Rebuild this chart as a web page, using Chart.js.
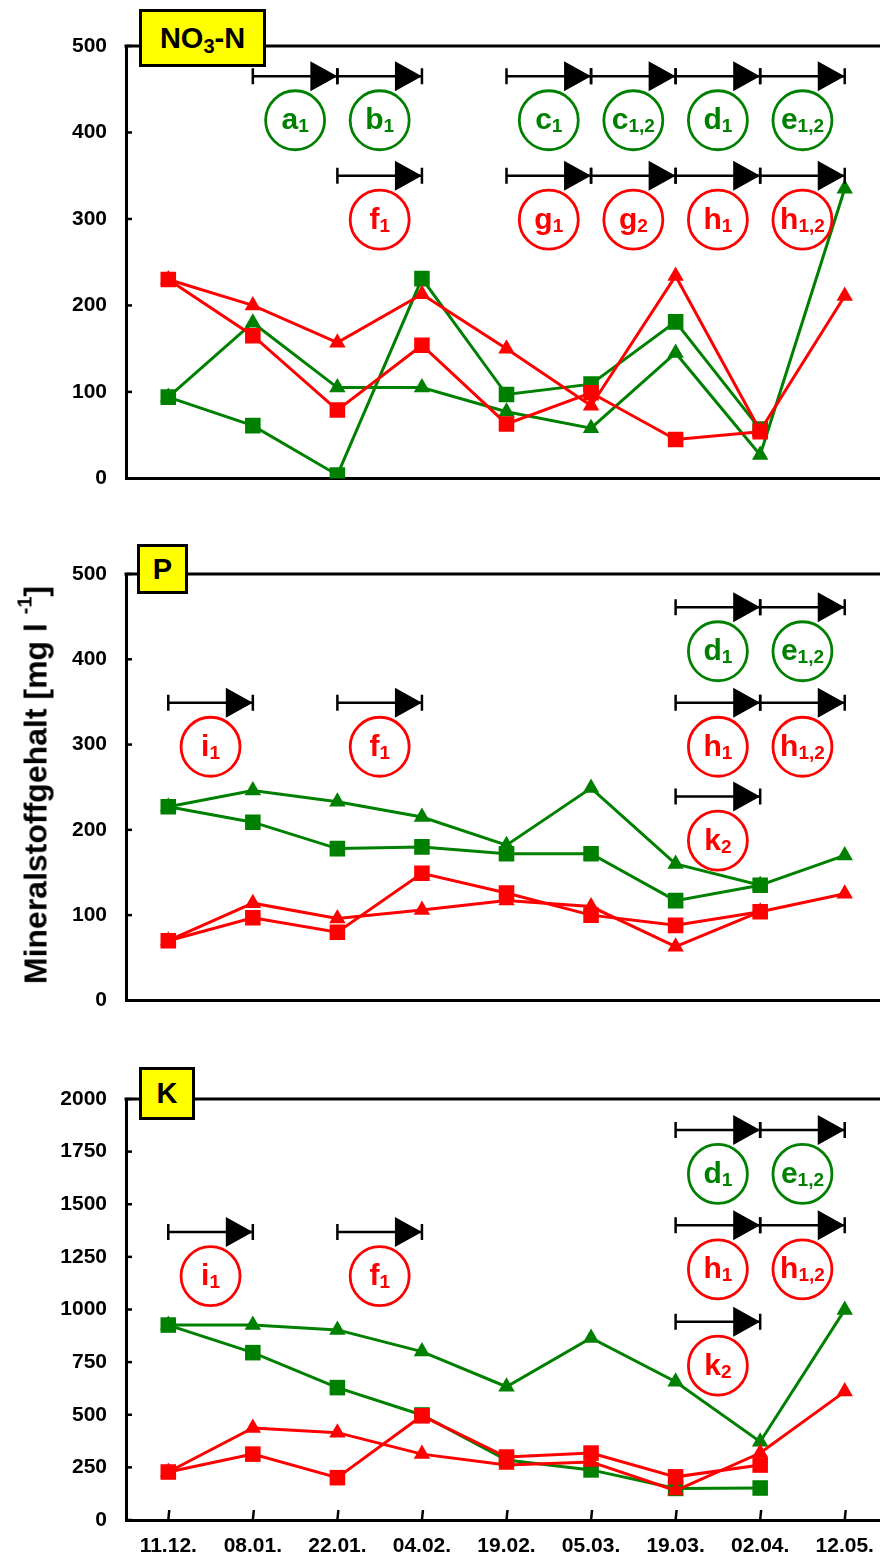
<!DOCTYPE html>
<html>
<head>
<meta charset="utf-8">
<script src="https://cdn.jsdelivr.net/npm/chart.js@4.4.1/dist/chart.umd.min.js"></script>
<style>
  html, body { margin: 0; padding: 0; background: #fff; overflow: hidden; }
  body { width: 880px; height: 1559px; position: relative; font-family: "Liberation Sans", Arial, sans-serif; }
  canvas { position: absolute; left: 0; }
  .tag { position: absolute; background: #ffff00; border: 3px solid #000; box-sizing: border-box;
         font-weight: bold; font-size: 29px; color: #000; display: flex; align-items: center;
         justify-content: center; z-index: 2; }
  .tag sub { font-size: 20px; vertical-align: baseline; position: relative; top: 5px; }
  .ytitle { position: absolute; left: 36px; top: 785px; transform: translate(-50%, -50%) rotate(-90deg);
            white-space: nowrap; font-weight: bold; font-size: 32px; color: #000; }
  .ytitle sup { font-size: 20px; position: relative; top: -4px; vertical-align: top; }
</style>
</head>
<body>
<canvas id="no3" width="890" height="510" style="top:0"></canvas>
<canvas id="p" width="890" height="512" style="top:520px"></canvas>
<canvas id="k" width="890" height="519" style="top:1040px"></canvas>

<div class="tag" style="left:139px; top:9px; width:127px; height:58px;"><span>NO<sub>3</sub>-N</span></div>
<div class="tag" style="left:137px; top:544px; width:51px; height:50px;">P</div>
<div class="tag" style="left:139px; top:1067px; width:56px; height:53px;">K</div>
<div class="ytitle">Mineralstoffgehalt [mg l <sup>-1</sup>]</div>

<script>
const dates = ['11.12.', '08.01.', '22.01.', '04.02.', '19.02.', '05.03.', '19.03.', '02.04.', '12.05.'];

// NO3-N
const no3GreenSquare = [94, 61, 4, 231, 97, 109, 181, 57, null];
const no3GreenTriangle = [94, 180, 105, 105, 77, 58, 145, 27, 335];
const no3RedSquare = [230, 165, 79, 154, 63, 99, 45, 54, null];
const no3RedTriangle = [230, 200, 157, 213, 150, 84, 234, 55, 211];

// P
const pGreenSquare = [227, 209, 178, 180, 172, 172, 117, 135, null];
const pGreenTriangle = [227, 246, 233, 215, 182, 249, 160, 135, 170];
const pRedSquare = [70, 97, 80, 149, 126, 100, 88, 104, null];
const pRedTriangle = [70, 114, 96, 106, 117, 110, 63, 104, 125];

// K
const kGreenSquare = [926, 795, 629, 499, 285, 238, 150, 152, null];
const kGreenTriangle = [926, 926, 903, 800, 633, 865, 657, 372, 998];
const kRedSquare = [228, 313, 201, 495, 299, 318, 205, 261, null];
const kRedTriangle = [228, 437, 415, 313, 261, 276, 140, 318, 610];

// arrows: from, to, level (axis units), letter, subscript, group
const no3Arrows = [
  ['08.01.', '22.01.', 465, 'a', '1', 'g'],
  ['22.01.', '04.02.', 465, 'b', '1', 'g'],
  ['19.02.', '05.03.', 465, 'c', '1', 'g'],
  ['05.03.', '19.03.', 465, 'c', '1,2', 'g'],
  ['19.03.', '02.04.', 465, 'd', '1', 'g'],
  ['02.04.', '12.05.', 465, 'e', '1,2', 'g'],
  ['22.01.', '04.02.', 350, 'f', '1', 'r'],
  ['19.02.', '05.03.', 350, 'g', '1', 'r'],
  ['05.03.', '19.03.', 350, 'g', '2', 'r'],
  ['19.03.', '02.04.', 350, 'h', '1', 'r'],
  ['02.04.', '12.05.', 350, 'h', '1,2', 'r']
];
const pArrows = [
  ['19.03.', '02.04.', 461, 'd', '1', 'g'],
  ['02.04.', '12.05.', 461, 'e', '1,2', 'g'],
  ['11.12.', '08.01.', 349, 'i', '1', 'r'],
  ['22.01.', '04.02.', 349, 'f', '1', 'r'],
  ['19.03.', '02.04.', 349, 'h', '1', 'r'],
  ['02.04.', '12.05.', 349, 'h', '1,2', 'r'],
  ['19.03.', '02.04.', 239, 'k', '2', 'r']
];
const kArrows = [
  ['19.03.', '02.04.', 1853, 'd', '1', 'g'],
  ['02.04.', '12.05.', 1853, 'e', '1,2', 'g'],
  ['11.12.', '08.01.', 1368, 'i', '1', 'r'],
  ['22.01.', '04.02.', 1368, 'f', '1', 'r'],
  ['19.03.', '02.04.', 1400, 'h', '1', 'r'],
  ['02.04.', '12.05.', 1400, 'h', '1,2', 'r'],
  ['19.03.', '02.04.', 942, 'k', '2', 'r']
];

const GREEN = '#008000';
const RED = '#ff0000';
const FONT = '"Liberation Sans", Arial, sans-serif';

function series(values, color, shape) {
  const r = shape === 'rect' ? 11 : 9.5;
  return {
    data: values,
    borderColor: color,
    backgroundColor: color,
    borderWidth: 3,
    pointStyle: shape,
    pointRadius: r,
    pointBorderWidth: 0,
    pointHoverRadius: r,
    tension: 0
  };
}

function notes(arrows, xMarks) {
  return {
    id: 'notes',
    afterDatasetsDraw(chart) {
      const ctx = chart.ctx;
      const xs = chart.scales.x, ys = chart.scales.y;
      const area = chart.chartArea;
      ctx.save();
      // top frame line
      ctx.strokeStyle = '#000';
      ctx.lineWidth = 3;
      ctx.beginPath();
      ctx.moveTo(area.left - 1.5, area.top);
      ctx.lineTo(area.right, area.top);
      ctx.stroke();
      // y ticks, inside
      ctx.lineWidth = 2.5;
      ys.ticks.forEach(t => {
        const py = ys.getPixelForValue(t.value);
        ctx.beginPath();
        ctx.moveTo(area.left, py);
        ctx.lineTo(area.left + 6, py);
        ctx.stroke();
      });
      if (xMarks) {
        dates.forEach((d, i) => {
          const px = xs.getPixelForValue(i);
          ctx.beginPath();
          ctx.moveTo(px, area.bottom);
          ctx.lineTo(px + 1, area.bottom - 10);
          ctx.stroke();
        });
      }
      arrows.forEach(a => {
        const x0 = xs.getPixelForValue(dates.indexOf(a[0]));
        const x1 = xs.getPixelForValue(dates.indexOf(a[1]));
        const py = ys.getPixelForValue(a[2]);
        ctx.strokeStyle = '#000';
        ctx.fillStyle = '#000';
        ctx.lineWidth = 2.5;
        ctx.beginPath();
        ctx.moveTo(x0, py); ctx.lineTo(x1, py);
        ctx.moveTo(x0, py - 8); ctx.lineTo(x0, py + 8);
        ctx.moveTo(x1, py - 8); ctx.lineTo(x1, py + 8);
        ctx.stroke();
        ctx.beginPath();
        ctx.moveTo(x1, py);
        ctx.lineTo(x1 - 27, py - 15);
        ctx.lineTo(x1 - 27, py + 15);
        ctx.closePath();
        ctx.fill();

        const color = a[5] === 'g' ? GREEN : RED;
        const cx = (x0 + x1) / 2, cy = py + 44;
        ctx.strokeStyle = color;
        ctx.lineWidth = 2.8;
        ctx.beginPath();
        ctx.arc(cx, cy, 29.5, 0, Math.PI * 2);
        ctx.stroke();

        ctx.fillStyle = color;
        ctx.textAlign = 'left';
        ctx.textBaseline = 'alphabetic';
        ctx.font = 'bold 30px ' + FONT;
        const w1 = ctx.measureText(a[3]).width;
        ctx.font = 'bold 19px ' + FONT;
        const w2 = ctx.measureText(a[4]).width;
        const sx = cx - (w1 + w2) / 2;
        ctx.font = 'bold 30px ' + FONT;
        ctx.fillText(a[3], sx, cy + 9);
        ctx.font = 'bold 19px ' + FONT;
        ctx.fillText(a[4], sx + w1, cy + 12);
      });
      ctx.restore();
    }
  };
}

function makeChart(id, sets, max, step, arrows, bottom, padTop, xHeight) {
  new Chart(document.getElementById(id).getContext('2d'), {
    type: 'line',
    data: {
      labels: dates,
      datasets: [
        series(sets[2], RED, 'rect'),
        series(sets[3], RED, 'triangle'),
        series(sets[0], GREEN, 'rect'),
        series(sets[1], GREEN, 'triangle')
      ]
    },
    options: {
      responsive: false,
      animation: false,
      layout: { autoPadding: false, padding: { top: padTop, right: 3, left: 0, bottom: 0 } },
      plugins: { legend: { display: false }, tooltip: { enabled: false } },
      scales: {
        x: {
          offset: true,
          grid: { display: false, drawTicks: false },
          border: { display: true, color: '#000', width: 3 },
          ticks: {
            display: bottom,
            color: '#000',
            padding: 14,
            maxRotation: 0,
            font: { family: FONT, size: 21, weight: 'bold' }
          },
          afterFit: s => { s.height = xHeight; }
        },
        y: {
          min: 0,
          max: max,
          grid: { display: false, drawTicks: false },
          border: { display: true, color: '#000', width: 3 },
          ticks: {
            stepSize: step,
            color: '#000',
            padding: 19,
            callback: v => String(v),
            font: { family: FONT, size: 21, weight: 'bold' }
          },
          afterFit: s => { s.width = 126; }
        }
      }
    },
    plugins: [notes(arrows, bottom)]
  });
}

makeChart('no3', [no3GreenSquare, no3GreenTriangle, no3RedSquare, no3RedTriangle], 500, 100, no3Arrows, false, 46, 23);
makeChart('p', [pGreenSquare, pGreenTriangle, pRedSquare, pRedTriangle], 500, 100, pArrows, false, 54, 20);
makeChart('k', [kGreenSquare, kGreenTriangle, kRedSquare, kRedTriangle], 2000, 250, kArrows, true, 59, 39);
</script>
</body>
</html>
